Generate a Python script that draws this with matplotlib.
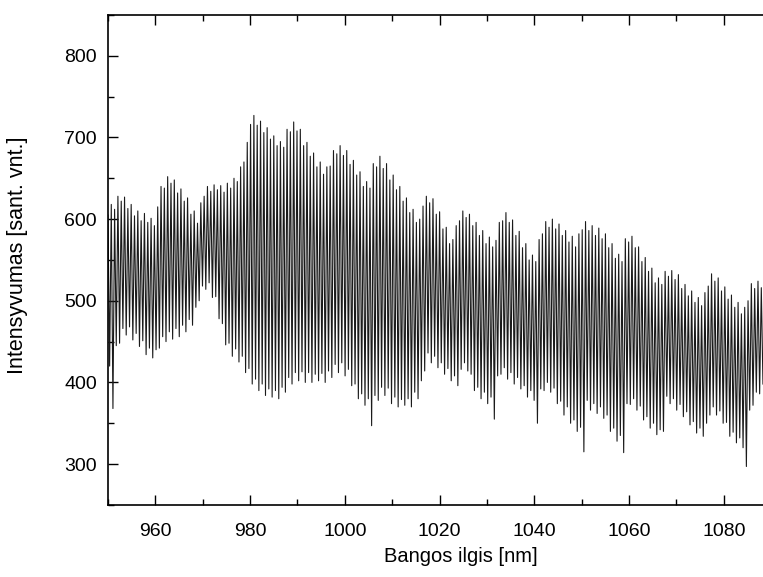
import numpy as np
import matplotlib.pyplot as plt

plt.rcParams['font.family'] = ['Liberation Sans', 'DejaVu Sans']

# fringe maxima positions, 0.7 nm apart (approx. fringe period)
wavelength = np.arange(950, 1088.5, 0.7)

# fringe maxima
upper = [
    605, 618, 612, 628, 622, 627, 613, 618, 604, 610,
    598, 607, 596, 601, 592, 615, 640, 638, 652, 644,
    648, 632, 637, 622, 626, 606, 610, 595, 620, 628,
    640, 634, 642, 636, 641, 633, 644, 638, 650, 646,
    664, 670, 694, 716, 727, 715, 720, 706, 712, 698,
    702, 690, 695, 688, 710, 707, 719, 708, 710, 690,
    694, 677, 681, 664, 670, 655, 664, 665, 684, 680,
    690, 678, 684, 667, 672, 654, 658, 640, 646, 638,
    668, 664, 677, 662, 668, 648, 654, 636, 640, 622,
    626, 608, 612, 596, 600, 616, 628, 620, 625, 606,
    609, 588, 590, 570, 575, 592, 598, 610, 602, 606,
    592, 596, 580, 586, 570, 578, 566, 574, 596, 598,
    608, 596, 599, 580, 585, 565, 570, 550, 556, 548,
    575, 582, 597, 590, 600, 588, 594, 580, 586, 572,
    579, 566, 582, 587, 597, 586, 592, 580, 589, 576,
    582, 565, 570, 552, 557, 548, 576, 572, 579, 565,
    566, 548, 553, 536, 540, 522, 528, 520, 536, 530,
    537, 526, 532, 515, 520, 506, 512, 498, 504, 494,
    510, 518, 533, 524, 528, 512, 517, 502, 507, 492,
    498, 484, 492, 500, 521, 515, 524, 516,
]

# fringe minima (between the maxima)
lower = [
    420, 368, 445, 448, 466, 458, 468, 452, 460, 444,
    451, 434, 442, 430, 440, 442, 456, 450, 462, 453,
    466, 456, 470, 462, 477, 470, 492, 500, 518, 514,
    522, 504, 505, 478, 472, 446, 448, 432, 441, 425,
    432, 412, 417, 398, 404, 390, 398, 384, 392, 382,
    390, 380, 394, 388, 406, 398, 412, 402, 413, 400,
    412, 400, 410, 402, 411, 400, 414, 406, 422, 412,
    424, 408, 416, 396, 398, 380, 386, 372, 380, 347,
    384, 378, 394, 384, 393, 374, 382, 370, 379, 372,
    380, 370, 388, 380, 402, 414, 436, 424, 432, 418,
    424, 410, 417, 402, 408, 396, 416, 424, 414, 410,
    390, 394, 380, 388, 374, 382, 355, 408, 410, 418,
    404, 412, 398, 406, 392, 396, 382, 390, 378, 350,
    392, 390, 400, 388, 393, 374, 377, 360, 370, 350,
    354, 340, 345, 315, 378, 366, 374, 362, 370, 356,
    360, 340, 344, 328, 335, 314, 374, 373, 380, 366,
    371, 354, 358, 344, 350, 336, 342, 340, 383, 374,
    380, 366, 373, 358, 364, 348, 352, 338, 344, 334,
    350, 360, 370, 360, 365, 350, 351, 334, 339, 326,
    332, 320, 297, 366, 372, 388, 386, 398,
]

# alternate max / min along the spectrum
x = np.empty(2 * len(wavelength))
y = np.empty(2 * len(wavelength))
x[0::2] = wavelength
x[1::2] = wavelength + 0.35
y[0::2] = upper
y[1::2] = lower

fig = plt.figure(figsize=(7.63, 5.77), dpi=100)
ax = fig.add_axes([0.1415, 0.125, 0.86, 0.849])

ax.plot(x, y, color='#1a1a1a', linewidth=0.8)

ax.set_xlim(950, 1088.5)
ax.set_ylim(250, 850)
ax.set_xticks(range(960, 1081, 20))
ax.set_xticks(range(950, 1089, 10), minor=True)
ax.set_yticks(range(300, 801, 100))
ax.set_yticks(range(250, 851, 50), minor=True)

ax.spines['right'].set_visible(False)
for s in ['left', 'top', 'bottom']:
    ax.spines[s].set_linewidth(1.2)

ax.tick_params(which='both', direction='in', top=True, right=False, labelsize=14, width=1.0)
ax.tick_params(which='major', length=7.5, pad=8)
ax.tick_params(which='minor', length=4)
ax.tick_params(axis='x', which='major', pad=13)

ax.set_xlabel("Bangos ilgis [nm]", fontsize=14.5)
ax.set_ylabel("Intensyvumas [sant. vnt.]", fontsize=15.5)
# the original figure is cropped on the right, so the labels sit off-centre
ax.xaxis.set_label_coords(0.537, -0.085)
ax.yaxis.set_label_coords(-0.122, 0.51)

fig.savefig("out.png", dpi=100)
